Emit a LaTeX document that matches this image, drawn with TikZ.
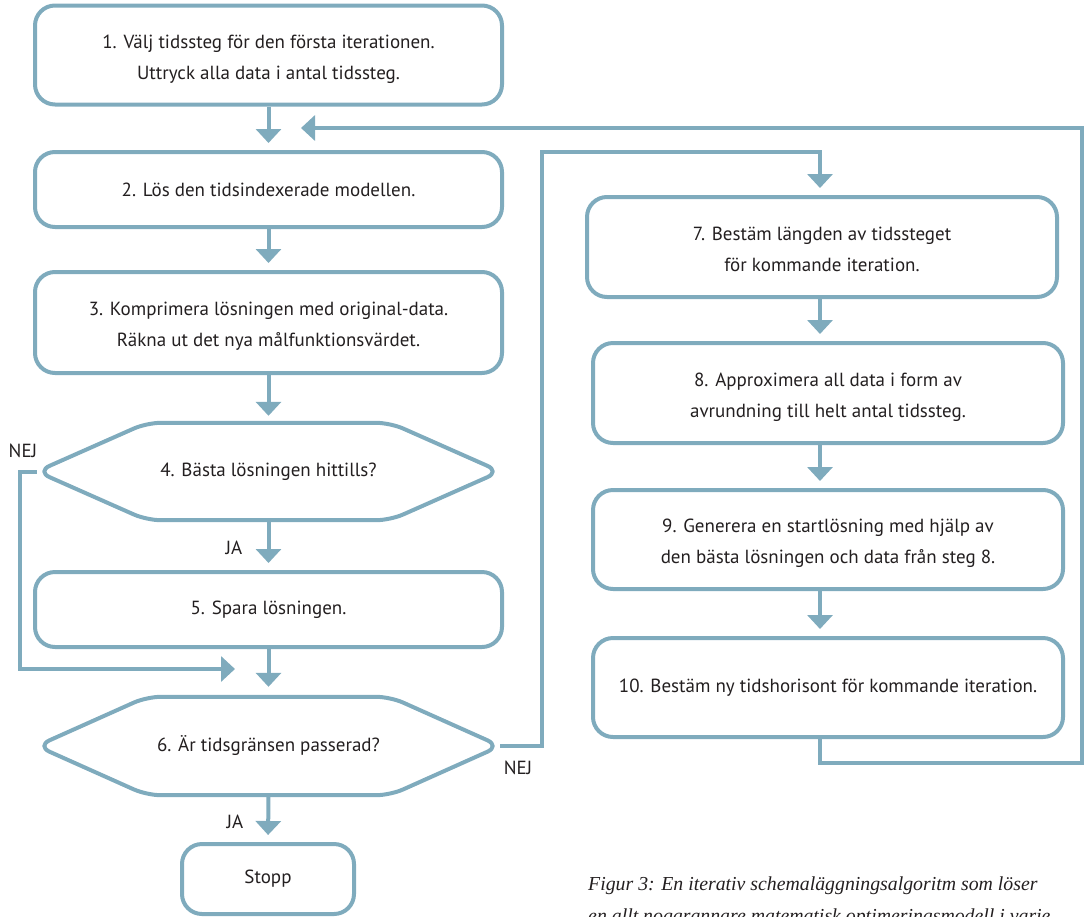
\documentclass[tikz,border=0pt]{standalone}
\usepackage{fontspec}
\setmainfont{PT Sans}
\newfontfamily\capfont{Liberation Serif}
\usetikzlibrary{arrows.meta}
\definecolor{flow}{RGB}{127,171,189}
\definecolor{ink}{RGB}{35,31,32}
\begin{document}
\begin{tikzpicture}[x=1pt,y=-1pt,
  txt/.style={text=ink, font=\fontsize{19}{31}\selectfont, align=center, inner sep=0pt},
  stepbox/.style={txt, draw=flow, line width=4pt, rounded corners=20pt, minimum width=467pt},
  rstepbox/.style={stepbox, minimum width=470pt},
  twolines/.style={text height=48pt, text depth=0pt},
  hexnode/.style={txt, minimum width=463pt, minimum height=97pt},
  hexline/.style={draw=flow, line width=4pt, rounded corners=14pt, line join=round},
  conn/.style={draw=flow, line width=4pt},
  arr/.style={conn, -{Triangle[width=25pt,length=14pt]}, shorten >=7pt},
  lbl/.style={text=ink, font=\fontsize{19}{20}\selectfont, inner sep=0pt},
  captxt/.style={text=ink, font=\capfont\itshape\fontsize{19.8}{30}\selectfont, inner sep=0pt, anchor=base west}
]
\useasboundingbox (0,0) rectangle (1086,916);

% left column
\node[stepbox, twolines, minimum height=99pt] (b1) at (268.5,55) {1. Välj tidssteg för den första iterationen.\\Uttryck alla data i antal tidssteg.};
\node[stepbox, minimum height=75pt] (b2) at (268.5,189.5) {2. Lös den tidsindexerade modellen.};
\node[stepbox, twolines, minimum height=101pt] (b3) at (268.5,322.5) {3. Komprimera lösningen med original-data.\\Räkna ut det nya målfunktionsvärdet.};
\node[hexnode] (h4) at (268.5,471.5) {4. Bästa lösningen hittills?};
\draw[hexline] (h4.west) -- ([xshift=110pt]h4.north west) -- ([xshift=-110pt]h4.north east) -- (h4.east) -- ([xshift=-110pt]h4.south east) -- ([xshift=110pt]h4.south west) -- cycle;
\node[stepbox, minimum height=75pt] (b5) at (268.5,609.5) {5. Spara lösningen.};
\node[hexnode, minimum height=98pt] (h6) at (268.5,746) {6. Är tidsgränsen passerad?};
\draw[hexline] (h6.west) -- ([xshift=110pt]h6.north west) -- ([xshift=-110pt]h6.north east) -- (h6.east) -- ([xshift=-110pt]h6.south east) -- ([xshift=110pt]h6.south west) -- cycle;
\node[stepbox, minimum width=172pt, minimum height=70pt] (stopp) at (268,879) {Stopp};

% right column
\coordinate (cx) at (820,0);
\node[rstepbox, twolines, minimum height=100pt] (b7) at (822,247) {7. Bestäm längden av tidssteget\\för kommande iteration.};
\node[rstepbox, twolines, minimum height=100pt] (b8) at (828,393) {8. Approximera all data i form av\\avrundning till helt antal tidssteg.};
\node[rstepbox, twolines, minimum height=99pt] (b9) at (828,539.5) {9. Generera en startlösning med hjälp av\\den bästa lösningen och data från steg 8.};
\node[rstepbox, minimum height=99pt] (b10) at (828,687.5) {10. Bestäm ny tidshorisont för kommande iteration.};

% labels
\node[lbl] (nej1) at (23,451) {NEJ};
\node[lbl] (ja1) at (234,548) {JA};
\node[lbl] (nej2) at (518,768) {NEJ};
\node[lbl] (ja2) at (235,822) {JA};

% connectors
\coordinate (m5) at (235,669);
\coordinate (fb) at (301,128);
\draw[arr] (b1.south) -- (b2.north);
\draw[arr] (b2.south) -- (b3.north);
\draw[arr] (b3.south) -- (h4.north);
\draw[arr] (h4.south) -- (b5.north);
\draw[arr, shorten >=10pt] (b5.south) -- (h6.north);
\draw[arr, shorten >=0pt] (h4.west) -- (20,471.5) -- (20,669) -- (m5);
\draw[arr] (h6.south) -- (stopp.north);
\draw[arr] (h6.east) -- (542,746) -- (542,152) -- (820,152) -- (b7.north -| cx);
\draw[arr] (b7.south -| cx) -- (b8.north -| cx);
\draw[arr] (b8.south -| cx) -- (b9.north -| cx);
\draw[arr] (b9.south -| cx) -- (b10.north -| cx);
\draw[arr, shorten >=0pt] (b10.south -| cx) -- (820,763) -- (1082,763) -- (1082,128) -- (fb);

% caption
\node[captxt] (cap1) at (588,890) {Figur 3: En iterativ schemaläggningsalgoritm som löser};
\node[captxt] (cap2) at (588,922) {en allt noggrannare matematisk optimeringsmodell i varje};
\end{tikzpicture}
\end{document}
